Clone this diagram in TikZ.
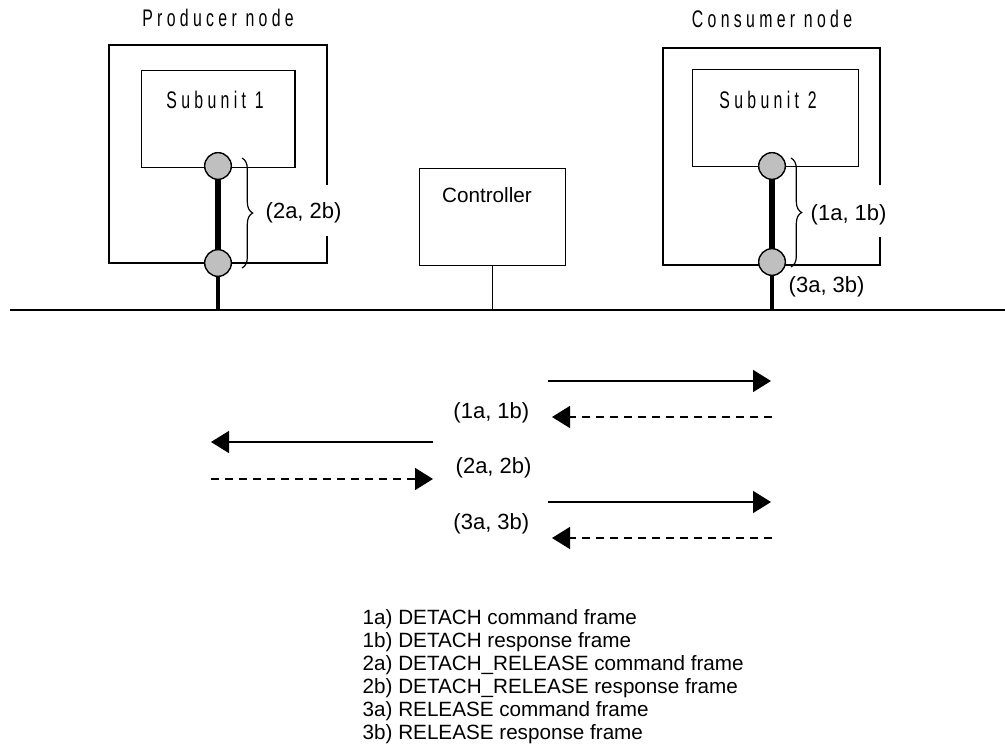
\documentclass[tikz,border=0pt]{standalone}
\usepackage{fontspec}
\setmainfont{Liberation Sans}
\newfontfamily\thinfont[LetterSpace=18,FakeStretch=0.66]{Liberation Sans}
\usetikzlibrary{arrows.meta,decorations.pathreplacing}
\begin{document}
\begin{tikzpicture}[x=0.75pt,y=-0.75pt, line width=1.05pt,
  box/.style={draw, line width=1.05pt, inner sep=0pt, anchor=north west},
  port/.style={circle, draw, fill=black!25, minimum size=20pt, inner sep=0pt, line width=1.05pt},
  msg/.style={line width=1.1pt, -{Triangle[length=13.5pt,width=16.5pt]}},
  resp/.style={msg, dash pattern=on 6pt off 4.5pt},
  lbl/.style={font=\fontsize{16.5}{19}\selectfont, inner sep=0pt},
  ctlfont/.style={font=\fontsize{15.5}{18}\selectfont, inner sep=0pt},
  ttl/.style={font=\thinfont\fontsize{18}{21}\selectfont, inner sep=0pt},
  bracestyle/.style={decorate, decoration={brace, amplitude=8pt}, line width=0.9pt}]
\useasboundingbox (0,0) rectangle (1005,748);

% titles
\node[ttl] (tp) at (218,18) {Producer node};
\node[ttl] (tc) at (772,19) {Consumer node};

% producer node outline (right edge interrupted)
\coordinate (pTL) at (109,45);
\coordinate (pBR) at (327,263);
\draw (327,185) -- (327,45) -- (pTL) -- (109,263) -- (pBR) -- (327,236);

% consumer node outline
\coordinate (cTL) at (663,48);
\coordinate (cBR) at (880,265);
\draw (880,185) -- (880,48) -- (cTL) -- (663,265) -- (cBR) -- (880,237);

% subunits
\node[box, minimum width=115pt, minimum height=72.75pt] (s1) at (141,70) {};
\node[ttl] (s1t) at (215,100) {Subunit 1};
\node[box, minimum width=124.5pt, minimum height=72.75pt] (s2) at (692,69) {};
\node[ttl] (s2t) at (768,100) {Subunit 2};

% controller
\node[box, minimum width=109.5pt, minimum height=72.75pt] (ctl) at (419,168) {};
\node[ctlfont] (ctlt) at (487,195) {Controller};

% bus
\coordinate (busL) at (10,310);
\coordinate (busR) at (1005,310);
\draw[line width=2.1pt] (busL) -- (busR);

% ports
\node[port] (p1a) at (218,166) {};
\node[port] (p1b) at (218,263) {};
\node[port] (p2a) at (772,166) {};
\node[port] (p2b) at (772,262) {};
\draw[line width=4.2pt] (p1a) -- (p1b);
\draw[line width=4.2pt] (p2a) -- (p2b);
\draw[line width=3.2pt] (p1b) -- (p1b |- busL);
\draw[line width=3.2pt] (p2b) -- (p2b |- busL);
\draw (ctl.south) -- (ctl.south |- busL);

% braces
\draw[bracestyle] (242,158) -- (242,268);
\node[lbl, anchor=west] (b1) at (265,213) {(2a, 2b)};
\draw[bracestyle] (791,158) -- (791,267);
\node[lbl, anchor=west] (b2) at (810,215) {(1a, 1b)};
\node[lbl, anchor=west] (b3) at (788,287) {(3a, 3b)};

% message arrows
\coordinate (a1s) at (548,381); \coordinate (a1e) at (771,381);
\coordinate (r1s) at (772,417); \coordinate (r1e) at (552,417);
\coordinate (a2s) at (433,442); \coordinate (a2e) at (211,442);
\coordinate (r2s) at (211,479); \coordinate (r2e) at (433,479);
\coordinate (a3s) at (548,502); \coordinate (a3e) at (771,502);
\coordinate (r3s) at (772,538); \coordinate (r3e) at (552,538);
\draw[msg] (a1s) -- (a1e);
\draw[resp] (r1s) -- (r1e);
\draw[msg] (a2s) -- (a2e);
\draw[resp] (r2s) -- (r2e);
\draw[msg] (a3s) -- (a3e);
\draw[resp] (r3s) -- (r3e);
\node[lbl, anchor=east] (m1) at (530,413) {(1a, 1b)};
\node[lbl, anchor=west] (m2) at (455,468) {(2a, 2b)};
\node[lbl, anchor=east] (m3) at (530,524) {(3a, 3b)};

% legend
\node[inner sep=0pt, anchor=north west, align=left, font=\fontsize{15.5}{17.25}\selectfont] (leg) at (362,609)
 {1a) DETACH command frame\\
  1b) DETACH response frame\\
  2a) DETACH\_RELEASE command frame\\
  2b) DETACH\_RELEASE response frame\\
  3a) RELEASE command frame\\
  3b) RELEASE response frame};
\end{tikzpicture}
\end{document}
